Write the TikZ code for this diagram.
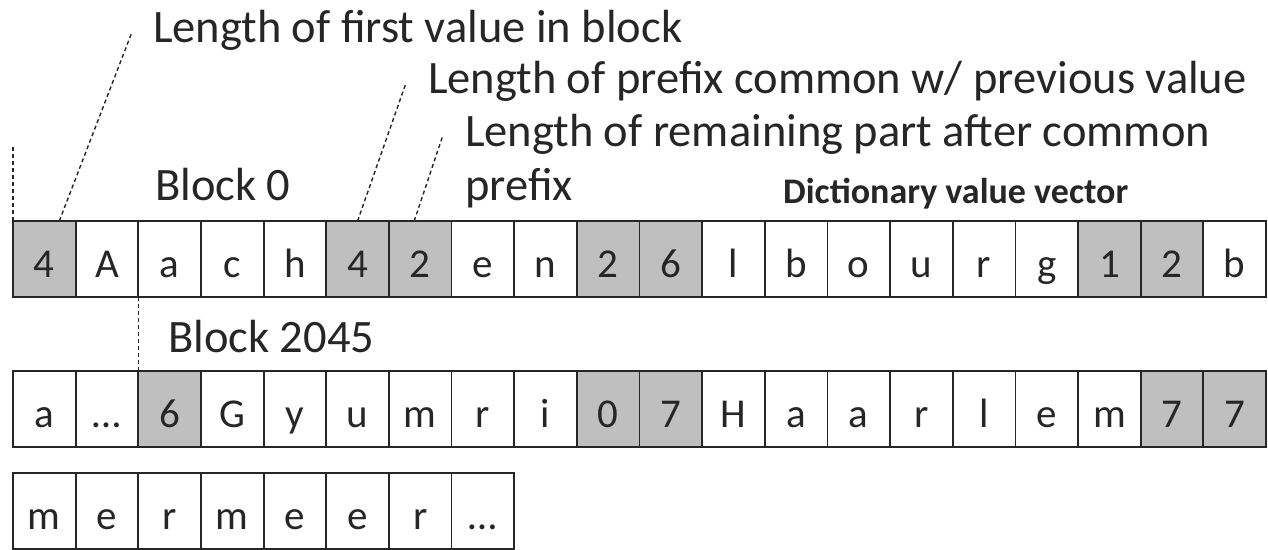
\documentclass[tikz,border=0pt]{standalone}
\usepackage{fontspec}
\setmainfont{Carlito}
\begin{document}
\begin{tikzpicture}[x=1pt,y=-1pt,
  cell/.style={draw=black!85, line width=1.8pt, minimum width=62.65pt, minimum height=76pt,
    inner sep=0pt, outer sep=0pt, anchor=north west, font=\fontsize{41}{48}\selectfont, text=black!85,
    text height=38pt, text depth=2pt},
  g/.style={fill=gray!50},
  n/.style={fill=white},
  lbl/.style={anchor=base west, font=\fontsize{46.5}{55}\selectfont, inner sep=0pt, text=black!85},
  lead/.style={draw=black!85, dash pattern=on 4pt off 3pt, line width=1.4pt}]
\useasboundingbox (0,0) rectangle (1268,549);
% row 1
\foreach \t/\s [count=\i] in {4/g,A/n,a/n,c/n,h/n,4/g,2/g,e/n,n/n,2/g,6/g,l/n,b/n,o/n,u/n,r/n,g/n,1/g,2/g,b/n}
  \node[cell,\s] (a\i) at ({13+(\i-1)*62.65},221) {\t};
% row 2
\foreach \t/\s [count=\i] in {a/n,…/n,6/g,G/n,y/n,u/n,m/n,r/n,i/n,0/g,7/g,H/n,a/n,a/n,r/n,l/n,e/n,m/n,7/g,7/g}
  \node[cell,\s] (b\i) at ({13+(\i-1)*62.65},371) {\t};
% row 3
\foreach \t/\s [count=\i] in {m/n,e/n,r/n,m/n,e/n,e/n,r/n,…/n}
  \node[cell,\s] (c\i) at ({13+(\i-1)*62.65},473) {\t};
% labels
\node[lbl] (l1) at (153,42) {Length of first value in block};
\node[lbl] (l2) at (428,93) {Length of prefix common w/ previous value};
\node[lbl] (l3) at (465,146) {Length of remaining part after common};
\node[lbl] (l4) at (465,200) {prefix};
\node[lbl] (blk0) at (155,200) {Block 0};
\node[lbl] (blk2045) at (168,352) {Block 2045};
\node[lbl, font=\fontsize{36}{40}\selectfont\bfseries] (dvv) at (783,203) {Dictionary value vector};
% leader lines
\coordinate (e1) at (132,32);
\coordinate (e2) at (406,83);
\coordinate (e3) at (443,135);
\coordinate (e4) at (13,147);
\draw[lead] ([xshift=15pt]a1.north) -- (e1);
\draw[lead] ([xshift=0pt]a6.north) -- (e2);
\draw[lead] ([xshift=-6pt]a7.north) -- (e3);
\draw[lead] (a1.north west) -- (e4);
\draw[lead] (a2.south east) -- (b3.north west);
\end{tikzpicture}
\end{document}
